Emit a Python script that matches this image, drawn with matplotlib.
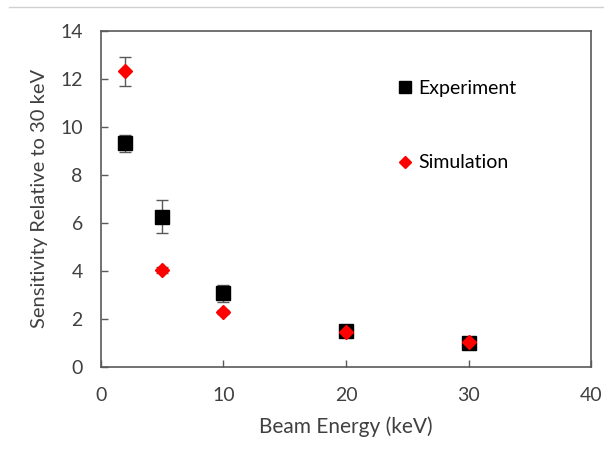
import matplotlib.pyplot as plt
from matplotlib.lines import Line2D

plt.rcParams['font.family'] = ['Lato', 'DejaVu Sans']

energy = [2, 5, 10, 20, 30]
experiment = [9.3, 6.25, 3.05, 1.48, 1.0]
experiment_err = [0.35, 0.68, 0.35, 0.12, 0.08]
simulation = [12.3, 4.03, 2.28, 1.43, 1.03]
simulation_err = [0.6, 0.12, 0.08, 0.1, 0.1]

text_col = '#404040'
axis_col = '#595959'

fig = plt.figure(figsize=(6.04, 4.55), dpi=100)
ax = fig.add_axes([0.167, 0.1945, 0.812, 0.738])

ax.errorbar(energy, experiment, yerr=experiment_err, fmt='s', color='black',
            markersize=9.5, ecolor=axis_col, elinewidth=1, capsize=4.3,
            capthick=1, label='Experiment')
ax.errorbar(energy, simulation, yerr=simulation_err, fmt='D', color='#ff0000',
            markersize=7, ecolor=axis_col, elinewidth=1, capsize=4.3,
            capthick=1, label='Simulation')

ax.set_xlim(0, 40)
ax.set_ylim(0, 14)
ax.set_xticks([0, 10, 20, 30, 40])
ax.set_yticks(range(0, 15, 2))
ax.tick_params(direction='in', length=5, width=1, color=axis_col,
               labelcolor=text_col, labelsize=14)
ax.tick_params(axis='x', pad=15)
ax.tick_params(axis='y', pad=13)
for s in ax.spines.values():
    s.set_color(axis_col)
    s.set_linewidth(1.2)

ax.set_xlabel('Beam Energy (keV)', fontsize=15, color=text_col, labelpad=9)
ax.set_ylabel('Sensitivity Relative to 30 keV', fontsize=14.5, color=text_col, labelpad=9)

# legend sits inside the plot, no frame, wide gap between the rows
handles, labels = ax.get_legend_handles_labels()
handles = [h[0] for h in handles]
ax.legend(handles, labels, loc='upper left', bbox_to_anchor=(0.572, 0.905),
          frameon=False, fontsize=14, labelspacing=2.95, handlelength=0.6,
          handletextpad=0.4, labelcolor='black', markerscale=0.85)

fig.add_artist(Line2D([0.015, 1.0], [0.985, 0.985], color='#d0d0d0', lw=1))

fig.savefig('out.png', dpi=100)
